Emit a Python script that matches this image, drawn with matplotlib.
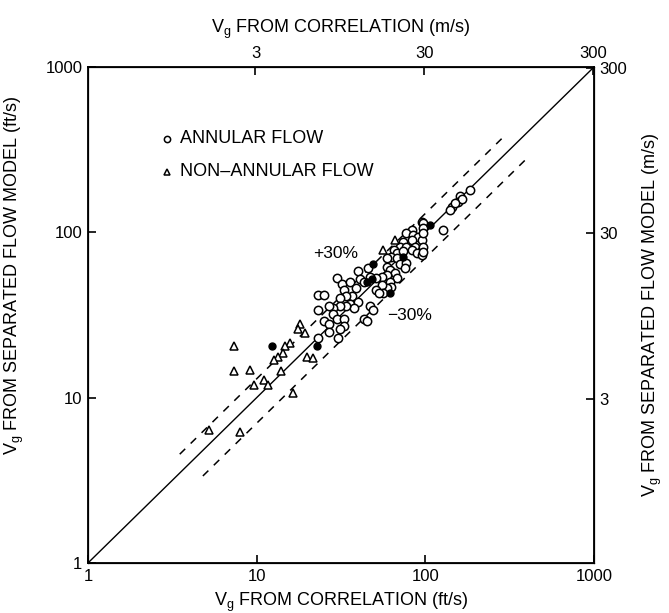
import matplotlib
matplotlib.use("Agg")
import matplotlib.pyplot as plt
from matplotlib.ticker import NullLocator, FixedLocator, FixedFormatter

plt.rcParams['font.family'] = ['Liberation Sans', 'DejaVu Sans']

# annular flow points (ft/s): correlation vs separated flow model
annular_x = [184, 161, 157, 143, 140, 165, 150, 95, 128, 83, 77, 85, 91, 95, 83, 74, 71, 77, 87,
             95, 65, 68, 74, 83, 89, 95, 63, 59, 68, 71, 77, 76, 59, 62, 66, 59, 55, 51, 68,
             62, 63, 59, 55, 51, 56, 53, 46, 40, 41, 47, 43, 30, 32, 36, 33, 39, 37, 34, 31,
             36, 40, 38, 34, 31, 28.5, 27, 23, 25, 23, 28.5, 25, 27, 30, 33, 33, 31, 27, 30.5,
             23, 47, 49, 43, 45, 97, 97, 97, 97, 97]
annular_y = [181, 165, 153, 143, 137, 160, 150, 116, 103, 103, 99, 96, 94, 90, 90, 88, 82, 82, 82,
             78, 78, 75, 77, 78, 75, 73, 71, 70, 70, 64, 65, 61, 62, 59, 57, 55, 54, 53, 53,
             50, 47, 46, 48, 45, 43, 43, 61, 58, 52, 54, 50, 53, 49, 50, 45, 46, 41, 41, 40,
             37, 38, 35, 36, 36, 35, 36, 42, 42, 34, 32, 29, 28, 30, 30, 27, 26, 25, 23,
             23, 36, 34, 30, 29, 114, 106, 99, 82, 76]

# non-annular flow points
nonann_x = [56, 66, 18, 17.7, 19.4, 15.8, 14.7, 14.4, 13.4, 12.6, 19.8, 21.7, 9.1, 11, 11.7,
            14, 9.6, 16.5, 7.3, 7.3, 5.2, 8.0]
nonann_y = [78, 90, 28, 26, 24.5, 21.3, 20.4, 18.6, 17.7, 16.9, 17.7, 17.3, 14.7, 12.8, 11.9,
            14.4, 11.9, 10.6, 20.4, 14.4, 6.4, 6.2]

# solid (overprinted) points
solid_x = [107, 74, 62, 48, 45, 49, 12.3, 22.7]
solid_y = [111, 71, 43, 52, 50, 64, 20.4, 20.4]

ft_ticks = [1, 10, 100, 1000]
ms_ticks = [3, 30, 300]
ft_to_m = 0.3048
band = 0.30

fig = plt.figure(figsize=(6.69, 6.13), dpi=100)
ax = fig.add_axes([0.1315, 0.0816, 0.7564, 0.8091])
ax.set_xscale('log')
ax.set_yscale('log')
ax.set_xlim(1, 1000)
ax.set_ylim(1, 1000)

# perfect agreement and +/-30% bands
ax.plot([1, 1000], [1, 1000], color='black', lw=1.0)
ux = [3.5, 290]
ax.plot(ux, [v * (1 + band) for v in ux], color='black', lw=1.1, ls=(0, (5, 5)))
lx = [4.8, 400]
ax.plot(lx, [v * (1 - band) for v in lx], color='black', lw=1.1, ls=(0, (5, 5)))

ax.plot(annular_x, annular_y, ls='none', marker='o', ms=6, mfc='white', mec='black', mew=1.1)
ax.plot(nonann_x, nonann_y, ls='none', marker='^', ms=5.5, mfc='white', mec='black', mew=1.1)
ax.plot(solid_x, solid_y, ls='none', marker='o', ms=5, mfc='black', mec='black')

# legend drawn as text like the original
ax.plot([2.94], [367], marker='o', ms=4.5, mfc='white', mec='black', mew=1.1)
ax.plot([2.94], [232], marker='^', ms=4.5, mfc='white', mec='black', mew=1.1)
ax.text(3.5, 367, 'ANNULAR FLOW', fontsize=13, va='center', ha='left')
ax.text(3.5, 232, 'NON\u2013ANNULAR FLOW', fontsize=13, va='center', ha='left')

ax.text(21.5, 74, '+30%', fontsize=12.5, va='center', ha='left')
ax.text(59, 31.2, '\u221230%', fontsize=12.5, va='center', ha='left')

for s in ax.spines.values():
    s.set_linewidth(1.3)

ax.xaxis.set_major_locator(FixedLocator(ft_ticks))
ax.xaxis.set_major_formatter(FixedFormatter([str(t) for t in ft_ticks]))
ax.yaxis.set_major_locator(FixedLocator(ft_ticks))
ax.yaxis.set_major_formatter(FixedFormatter([str(t) for t in ft_ticks]))
ax.xaxis.set_minor_locator(NullLocator())
ax.yaxis.set_minor_locator(NullLocator())
ax.tick_params(direction='in', length=6, width=1.2, labelsize=12, pad=4)

ax.set_xlabel(r'V$_\mathregular{g}$ FROM CORRELATION (ft/s)', fontsize=13, labelpad=5)
ax.set_ylabel(r'V$_\mathregular{g}$ FROM SEPARATED FLOW MODEL (ft/s)', fontsize=13)
ax.yaxis.set_label_coords(-0.122, 0.58)

# metric scales
axt = ax.twiny()
axt.set_xscale('log')
axt.set_xlim(1 * ft_to_m, 1000 * ft_to_m)
axt.xaxis.set_major_locator(FixedLocator(ms_ticks))
axt.xaxis.set_major_formatter(FixedFormatter([str(t) for t in ms_ticks]))
axt.xaxis.set_minor_locator(NullLocator())
axt.tick_params(direction='in', length=6, width=1.2, labelsize=12, pad=4)
axt.set_xlabel(r'V$_\mathregular{g}$ FROM CORRELATION (m/s)', fontsize=13, labelpad=10)

axr = ax.twinx()
axr.set_yscale('log')
axr.set_ylim(1 * ft_to_m, 1000 * ft_to_m)
axr.yaxis.set_major_locator(FixedLocator(ms_ticks))
axr.yaxis.set_major_formatter(FixedFormatter([str(t) for t in ms_ticks]))
axr.yaxis.set_minor_locator(NullLocator())
axr.tick_params(direction='in', length=6, width=1.2, labelsize=12, pad=4)
axr.set_ylabel(r'V$_\mathregular{g}$ FROM SEPARATED FLOW MODEL (m/s)', fontsize=13, labelpad=10)

fig.savefig('out.png', dpi=100)
